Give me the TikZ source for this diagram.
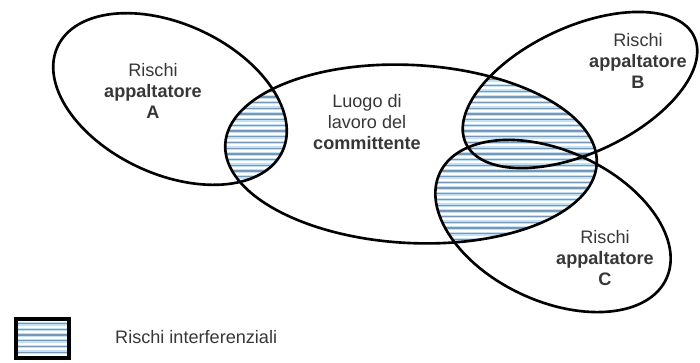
\documentclass[tikz,border=0pt]{standalone}
\usepackage{fontspec}
\setmainfont{Liberation Sans}
\usepackage{xcolor}
\usetikzlibrary{positioning}
\definecolor{tratteggio}{RGB}{120,150,182}
\definecolor{azzurro}{RGB}{196,224,243}
\definecolor{testo}{RGB}{55,55,55}
\newcommand{\zonaA}{[rotate around={-25:(170,-99)}] (170,-99) ellipse (124 and 75)}
\newcommand{\zonaB}{[rotate around={25:(580,-90)}] (580,-90) ellipse (126 and 63)}
\newcommand{\zonaC}{[rotate around={-25:(553,-226)}] (553,-226) ellipse (125 and 75)}
\newcommand{\zonaL}{[rotate around={-3:(411,-154)}] (411,-154) ellipse (186 and 89)}
\newcommand{\righe}[2]{% righe orizzontali da quota #1, #2 righe
  \fill[azzurro] (0,-#1) rectangle (700,-#1-5.7*#2);
  \foreach \i [evaluate=\i as \y using #1+5.7*\i] in {0,...,#2} {
    \draw[tratteggio, line width=0.7pt] (0,-\y) -- (700,-\y);
    \draw[white, line width=1.1pt] (0,-\y-2.85) -- (700,-\y-2.85);
  }}
\tikzset{
  bordo/.style={line width=1.5pt, black},
  etichetta/.style={align=center, text=testo, font=\fontsize{10.3}{12}\selectfont}
}

\begin{document}
\begin{tikzpicture}[x=0.02cm, y=0.02cm]
    \useasboundingbox (0,0) rectangle (700,-362);
    % intersezioni tratteggiate
    \begin{scope}
      \clip \zonaA; \clip \zonaL;
      \righe{0}{64}
    \end{scope}
    \begin{scope}
      \clip \zonaB; \clip \zonaL;
      \righe{0}{64}
    \end{scope}
    \begin{scope}
      \clip \zonaC; \clip \zonaL;
      \righe{0}{64}
    \end{scope}
    % contorni
    \draw[bordo] \zonaA;
    \draw[bordo] \zonaB;
    \draw[bordo] \zonaC;
    \draw[bordo] \zonaL;
    % testi
    \node[etichetta] (rischiA) at (153,-91) {Rischi\\\textbf{appaltatore}\\\textbf{A}};
    \node[etichetta] (luogo) at (367,-122) {Luogo di\\lavoro del\\\textbf{committente}};
    \node[etichetta] (rischiB) at (638,-61) {Rischi\\\textbf{appaltatore}\\\textbf{B}};
    \node[etichetta] (rischiC) at (605,-258) {Rischi\\\textbf{appaltatore}\\\textbf{C}};
    % legenda
    \begin{scope}
      \clip (16,-319) rectangle (69,-358);
      \righe{318}{8}
    \end{scope}
    \draw[line width=2pt] (16,-319) rectangle (69,-358);
    \node[etichetta, anchor=west] (legenda) at (109,-337) {Rischi interferenziali};
\end{tikzpicture}
\end{document}
